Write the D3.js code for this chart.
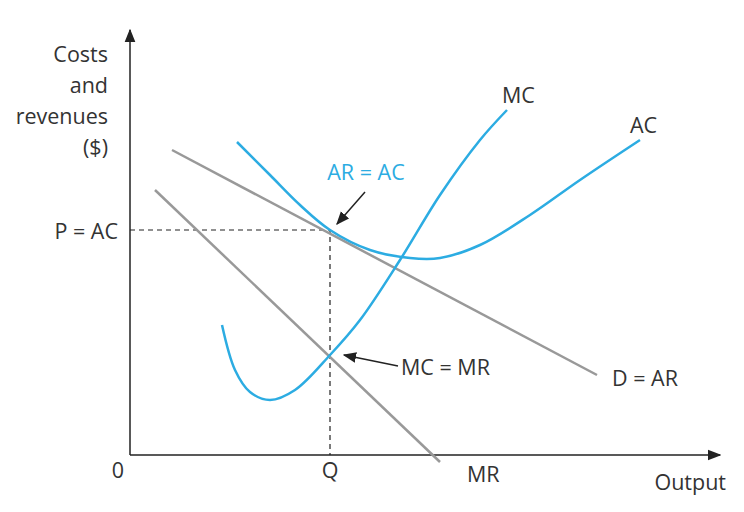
<!DOCTYPE html>
<html><head><meta charset="utf-8">
<script src="https://cdn.jsdelivr.net/npm/d3@7"></script>
<style>body{margin:0;background:#fff}text{font-family:"Open Sans",sans-serif;font-size:21.5px;fill:#333}</style>
</head><body><div id="chart"></div>
<script>
// data in chart units (origin at axis corner)
const demand = [[42, 305], [467, 80]];
const marginalRevenue = [[25, 265], [310, -7]];
const mcCurve = [[92,130],[105,85],[120,63],[140,55],[165,65],[200,100],[230,135],[270,195],[310,260],[350,315],[377,345]];
const acCurve = [[107,313],[140,280],[170,250],[200,225],[240,205],[280,197],[310,197],[350,210],[400,240],[450,275],[510,315]];
const equilibrium = {q: 200, p: 225, mcmr: 103};

const width = 744, height = 512;
const x = d3.scaleLinear().domain([0, 590]).range([130, 720]);
const y = d3.scaleLinear().domain([0, 425]).range([455, 30]);

const svg = d3.select("#chart").append("svg").attr("width", width).attr("height", height);
const defs = svg.append("defs");
defs.append("marker").attr("id", "arr").attr("viewBox", "0 0 10 10").attr("refX", 9).attr("refY", 5)
    .attr("markerWidth", 9).attr("markerHeight", 9).attr("orient", "auto")
  .append("path").attr("d", "M0,1 L10,5 L0,9 Z").attr("fill", "#222");

const line = d3.line().x(d => x(d[0])).y(d => y(d[1]));
const curve = d3.line().x(d => x(d[0])).y(d => y(d[1])).curve(d3.curveCatmullRom);

// axes
svg.append("line").attr("x1", x(0)).attr("y1", y(0)).attr("x2", x(0)).attr("y2", y(425))
    .attr("stroke", "#222").attr("stroke-width", 1.5).attr("marker-end", "url(#arr)");
svg.append("line").attr("x1", x(0)).attr("y1", y(0)).attr("x2", x(590)).attr("y2", y(0))
    .attr("stroke", "#222").attr("stroke-width", 1.5).attr("marker-end", "url(#arr)");

// dashed guides
svg.append("path").attr("d", line([[0, equilibrium.p], [equilibrium.q, equilibrium.p], [equilibrium.q, 0]]))
    .attr("fill", "none").attr("stroke", "#222").attr("stroke-dasharray", "5,4").attr("stroke-width", 1.2);

svg.append("path").attr("d", line(demand)).attr("fill", "none").attr("stroke", "#999").attr("stroke-width", 2.5);
svg.append("path").attr("d", line(marginalRevenue)).attr("fill", "none").attr("stroke", "#999").attr("stroke-width", 2.5);
svg.append("path").attr("d", curve(mcCurve)).attr("fill", "none").attr("stroke", "#2cace2").attr("stroke-width", 2.5);
svg.append("path").attr("d", curve(acCurve)).attr("fill", "none").attr("stroke", "#2cace2").attr("stroke-width", 2.5);

// pointer arrows
svg.append("line").attr("x1", 365).attr("y1", 192).attr("x2", 337).attr("y2", 224)
    .attr("stroke", "#222").attr("stroke-width", 1.5).attr("marker-end", "url(#arr)");
svg.append("line").attr("x1", 398).attr("y1", 366).attr("x2", 344).attr("y2", 355)
    .attr("stroke", "#222").attr("stroke-width", 1.5).attr("marker-end", "url(#arr)");

const labels = [
  {t: "Costs", x: 108, y: 62, a: "end"},
  {t: "and", x: 108, y: 93, a: "end"},
  {t: "revenues", x: 108, y: 124, a: "end"},
  {t: "($)", x: 108, y: 155, a: "end"},
  {t: "P = AC", x: 118, y: 239, a: "end"},
  {t: "0", x: 118, y: 478, a: "middle"},
  {t: "Q", x: 330, y: 478, a: "middle"},
  {t: "MR", x: 467, y: 482, a: "start"},
  {t: "Output", x: 726, y: 490, a: "end"},
  {t: "MC", x: 502, y: 103, a: "start"},
  {t: "AC", x: 630, y: 133, a: "start"},
  {t: "AR = AC", x: 366, y: 180, a: "middle", c: "#2cace2"},
  {t: "D = AR", x: 612, y: 386, a: "start"},
  {t: "MC = MR", x: 401, y: 375, a: "start"}
];
svg.selectAll("text.lbl").data(labels).join("text").attr("class", "lbl")
  .attr("x", d => d.x).attr("y", d => d.y).attr("text-anchor", d => d.a)
  .style("fill", d => d.c || "#333").text(d => d.t);
</script></body></html>
